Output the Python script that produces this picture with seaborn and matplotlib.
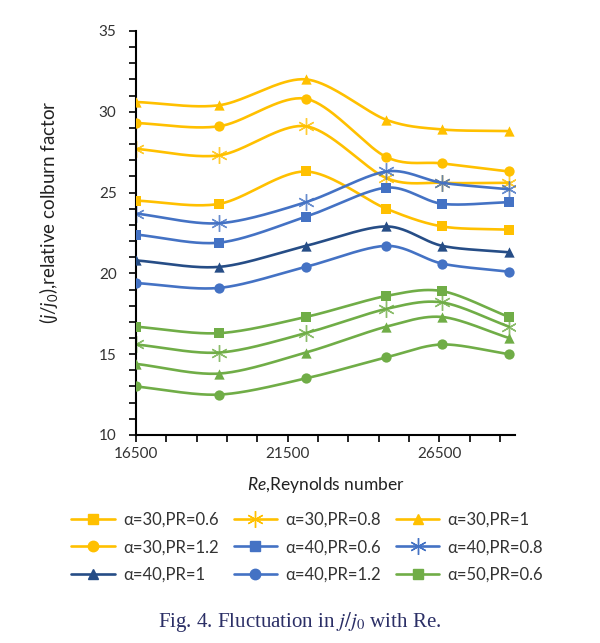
import numpy as np
import pandas as pd
import matplotlib
matplotlib.use("Agg")
import matplotlib.pyplot as plt
from matplotlib.lines import Line2D
import seaborn as sns

# Reynolds numbers at which j/j0 was evaluated
re_values = [16500, 19250, 22100, 24750, 26600, 28800]

# relative Colburn factor j/j0 for each configuration
a30_pr06 = [24.5, 24.3, 26.3, 24.0, 22.9, 22.7]
a30_pr08 = [27.7, 27.3, 29.1, 25.9, 25.6, 25.6]
a30_pr10 = [30.6, 30.4, 32.0, 29.5, 28.9, 28.8]
a30_pr12 = [29.3, 29.1, 30.8, 27.2, 26.8, 26.3]
a40_pr06 = [22.4, 21.9, 23.5, 25.3, 24.3, 24.4]
a40_pr08 = [23.7, 23.1, 24.4, 26.3, 25.6, 25.2]
a40_pr10 = [20.8, 20.4, 21.7, 22.9, 21.7, 21.3]
a40_pr12 = [19.4, 19.1, 20.4, 21.7, 20.6, 20.1]
a50_pr06 = [16.7, 16.3, 17.3, 18.6, 18.9, 17.3]
a50_pr08 = [15.6, 15.1, 16.3, 17.8, 18.2, 16.7]
a50_pr10 = [14.4, 13.8, 15.1, 16.7, 17.3, 16.0]
a50_pr12 = [13.0, 12.5, 13.5, 14.8, 15.6, 15.0]

labels = ["α=30,PR=0.6", "α=30,PR=0.8", "α=30,PR=1",
          "α=30,PR=1.2", "α=40,PR=0.6", "α=40,PR=0.8",
          "α=40,PR=1", "α=40,PR=1.2", "α=50,PR=0.6",
          "α=50,PR=0.8", "α=50,PR=1", "α=50,PR=1.2"]
series = [a30_pr06, a30_pr08, a30_pr10, a30_pr12,
          a40_pr06, a40_pr08, a40_pr10, a40_pr12,
          a50_pr06, a50_pr08, a50_pr10, a50_pr12]

GOLD, BLUE, NAVY, GREEN = "#FFC000", "#4472C4", "#264D86", "#70AD47"
colors = [GOLD] * 4 + [BLUE, BLUE, NAVY, BLUE] + [GREEN] * 4
STAR = (6, 2, 0)
markers = ["s", STAR, "^", "o"] * 3

sns.set_theme(style="ticks")
plt.rcParams["font.family"] = ["Lato", "DejaVu Sans"]
plt.rcParams["mathtext.fontset"] = "custom"
plt.rcParams["mathtext.it"] = "Lato:italic"
plt.rcParams["mathtext.rm"] = "Lato"

fig = plt.figure(figsize=(6.0, 6.43), dpi=100)
fig.patch.set_facecolor("white")
ax = fig.add_axes([0.2267, 0.3235, 0.6317, 0.6285])

XMIN, XMAX, YMIN, YMAX = 16500, 29000, 10, 35


def smooth(xs, ys, n=40):
    """Catmull-Rom curve through the points, built in normalised axis space."""
    px = (np.asarray(xs, float) - XMIN) / (XMAX - XMIN)
    py = (np.asarray(ys, float) - YMIN) / (YMAX - YMIN) * 1.6
    P = np.column_stack([px, py])
    P = np.vstack([2 * P[0] - P[1], P, 2 * P[-1] - P[-2]])
    out = []
    t = np.linspace(0, 1, n)[:, None]
    for i in range(1, len(P) - 2):
        p0, p1, p2, p3 = P[i - 1], P[i], P[i + 1], P[i + 2]
        m1 = (p2 - p0) / 2 * 0.9
        m2 = (p3 - p1) / 2 * 0.9
        h00 = 2 * t**3 - 3 * t**2 + 1
        h10 = t**3 - 2 * t**2 + t
        h01 = -2 * t**3 + 3 * t**2
        h11 = t**3 - t**2
        seg = h00 * p1 + h10 * m1 + h01 * p2 + h11 * m2
        out.append(seg if i == 1 else seg[1:])
    C = np.vstack(out)
    cx = C[:, 0] * (XMAX - XMIN) + XMIN
    cy = C[:, 1] / 1.6 * (YMAX - YMIN) + YMIN
    return cx, cy


for vals, col, mk, lab in zip(series, colors, markers, labels):
    cx, cy = smooth(re_values, vals)
    curve = pd.DataFrame({"Re": cx, "j": cy})
    sns.lineplot(data=curve, x="Re", y="j", sort=False, color=col,
                 linewidth=1.9, ax=ax, legend=False, estimator=None)
    pts = pd.DataFrame({"Re": re_values, "j": vals})
    if mk == STAR:
        ax.plot(pts["Re"], pts["j"], linestyle="none", marker=mk,
                markersize=12, markeredgecolor=col, markerfacecolor=col,
                markeredgewidth=1.0, alpha=0.8)
    else:
        sns.scatterplot(data=pts, x="Re", y="j", marker=mk, color=col,
                        s=55, edgecolor=col, linewidth=0, ax=ax, legend=False,
                        zorder=3)

ax.set_xlim(XMIN, XMAX)
ax.set_ylim(YMIN, YMAX)
ax.set_xticks([16500, 21500, 26500])
ax.set_xticks(np.arange(17500, 29000, 1000), minor=True)
ax.set_yticks([10, 15, 20, 25, 30, 35])
ax.set_yticks(np.arange(11, 35, 1), minor=True)
ax.tick_params(which="both", direction="out", length=5, width=1.2,
               colors="black", labelsize=11, labelcolor="#333333")
ax.tick_params(axis="x", pad=4)
ax.tick_params(axis="y", pad=9)
for side in ("top", "right"):
    ax.spines[side].set_visible(False)
for side in ("left", "bottom"):
    ax.spines[side].set_linewidth(1.5)
    ax.spines[side].set_color("black")

ax.set_xlabel(r"$Re$,Reynolds number", fontsize=12.5, color="#222222",
              labelpad=10)
ax.set_ylabel(r"$(j/j_0)$,relative colburn factor", fontsize=13.5,
              color="#222222")
ax.yaxis.set_label_coords(-0.20, 0.55)

# legend entries read row by row; matplotlib fills columns, so reorder
order = [0, 3, 6, 1, 4, 7, 2, 5, 8]
handles = []
for col, mk in zip(colors[:9], markers[:9]):
    if mk == STAR:
        h = Line2D([], [], color=col, linewidth=1.9, marker=mk, markersize=12,
                   markeredgecolor=col, markeredgewidth=1.0)
    else:
        h = Line2D([], [], color=col, linewidth=1.9, marker=mk, markersize=7.5,
                   markeredgecolor=col, markerfacecolor=col)
    handles.append(h)
fig.legend(handles=[handles[i] for i in order],
           labels=[labels[i] for i in order], ncol=3, loc="center",
           bbox_to_anchor=(0.512, 0.149), frameon=False, fontsize=12,
           handlelength=2.6, handletextpad=0.5, columnspacing=0.9,
           labelspacing=0.68, labelcolor="#333333")

fig.text(0.5, 0.032, r"Fig. 4. Fluctuation in $j/j_0$ with Re.",
         ha="center", va="center", fontsize=15, color="#2B2F66",
         family="Liberation Serif", math_fontfamily="stix")

fig.savefig("out.png", dpi=100, facecolor="white")
